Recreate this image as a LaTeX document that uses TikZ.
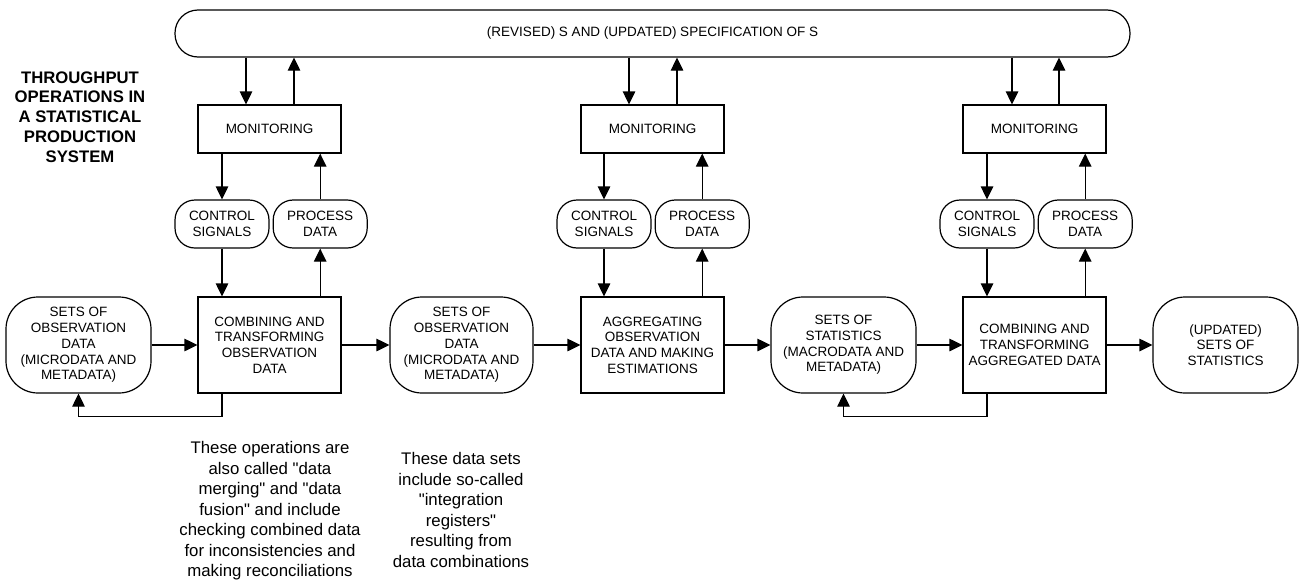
\documentclass[tikz,border=0pt]{standalone}
\usepackage{fontspec}
\setmainfont{Liberation Sans}
\usetikzlibrary{positioning, arrows.meta}
\tikzset{
  lbl/.style={font=\fontsize{13.5}{15.7}\selectfont, align=center,
              inner sep=2pt, line width=1.2pt},
  procbox/.style={lbl, draw, minimum width=143pt, minimum height=96pt},
  monbox/.style={lbl, draw, minimum width=143pt, minimum height=48pt},
  databox/.style={lbl, draw, rounded corners=32pt, minimum width=145pt, minimum height=96pt},
  sigbox/.style={lbl, draw, rounded corners=20pt, minimum width=94pt, minimum height=48pt},
  specbar/.style={lbl, draw, rounded corners=23pt, minimum width=955pt, minimum height=47pt},
  arrow/.style={-{Triangle[length=13pt, width=12.5pt]}, line width=1.2pt},
  note/.style={font=\fontsize{16.8}{20.5}\selectfont, align=center, inner sep=0pt},
  heading/.style={font=\bfseries\fontsize{16.7}{19.8}\selectfont, align=center, inner sep=0pt},
}
\newcommand{\qt}{\textquotedbl}

\begin{document}
\begin{tikzpicture}[x=1pt, y=-1pt]

\useasboundingbox (0,0) rectangle (1305,581);

%% ====================  TOP BAR AND TITLE  ====================

\node[specbar] (spec) at (652.5,33.5) {(REVISED) S AND (UPDATED) SPECIFICATION OF S};

\node[heading] (title) at (80,117)
  {THROUGHPUT\\OPERATIONS IN\\A STATISTICAL\\PRODUCTION\\SYSTEM};

%% ====================  MAIN ROW  ====================

\node[databox] (obs1) at (78.5,345)
  {SETS OF\\OBSERVATION\\DATA\\(MICRODATA AND\\METADATA)};
\node[procbox] (comb1) at (269.5,345)
  {COMBINING AND\\TRANSFORMING\\OBSERVATION\\DATA};
\node[databox, minimum width=143pt] (obs2) at (461.5,345)
  {SETS OF\\OBSERVATION\\DATA\\(MICRODATA AND\\METADATA)};
\node[procbox] (aggr) at (652.5,345)
  {AGGREGATING\\OBSERVATION\\DATA AND MAKING\\ESTIMATIONS};
\node[databox] (stat1) at (843.5,345)
  {SETS OF\\STATISTICS\\(MACRODATA AND\\METADATA)};
\node[procbox] (comb2) at (1034.5,345)
  {COMBINING AND\\TRANSFORMING\\AGGREGATED DATA};
\node[databox] (stat2) at (1225.5,345)
  {(UPDATED)\\SETS OF\\STATISTICS};

\draw[arrow] (obs1) -- (comb1);
\draw[arrow] (comb1) -- (obs2);
\draw[arrow] (obs2) -- (aggr);
\draw[arrow] (aggr) -- (stat1);
\draw[arrow] (stat1) -- (comb2);
\draw[arrow] (comb2) -- (stat2);

%% ====================  MONITORING LOOPS  ====================

\node[monbox] (mon1) at (269.5,129) {MONITORING};
\node[sigbox] (ctl1) at (222,224) {CONTROL\\SIGNALS};
\node[sigbox, right=3pt of ctl1] (prc1) {PROCESS\\DATA};

\node[monbox] (mon2) at (652.5,129) {MONITORING};
\node[sigbox] (ctl2) at (604,224) {CONTROL\\SIGNALS};
\node[sigbox, right=3pt of ctl2] (prc2) {PROCESS\\DATA};

\node[monbox] (mon3) at (1034.5,129) {MONITORING};
\node[sigbox] (ctl3) at (987,224) {CONTROL\\SIGNALS};
\node[sigbox, right=3pt of ctl3] (prc3) {PROCESS\\DATA};

% bar <-> monitoring
\draw[arrow] ([xshift=-23.5pt]mon1.north |- spec.south) -- ([xshift=-23.5pt]mon1.north);
\draw[arrow] ([xshift=24.5pt]mon1.north) -- ([xshift=24.5pt]mon1.north |- spec.south);
\draw[arrow] ([xshift=-23.5pt]mon2.north |- spec.south) -- ([xshift=-23.5pt]mon2.north);
\draw[arrow] ([xshift=24.5pt]mon2.north) -- ([xshift=24.5pt]mon2.north |- spec.south);
\draw[arrow] ([xshift=-22.5pt]mon3.north |- spec.south) -- ([xshift=-22.5pt]mon3.north);
\draw[arrow] ([xshift=24.5pt]mon3.north) -- ([xshift=24.5pt]mon3.north |- spec.south);

% monitoring <-> signals <-> operations
\draw[arrow] (mon1.south -| ctl1) -- (ctl1.north);
\draw[arrow] (prc1.north) -- (prc1.north |- mon1.south);
\draw[arrow] (ctl1.south) -- (ctl1.south |- comb1.north);
\draw[arrow] (prc1.south |- comb1.north) -- (prc1.south);

\draw[arrow] (mon2.south -| ctl2) -- (ctl2.north);
\draw[arrow] (prc2.north) -- (prc2.north |- mon2.south);
\draw[arrow] (ctl2.south) -- (ctl2.south |- aggr.north);
\draw[arrow] (prc2.south |- aggr.north) -- (prc2.south);

\draw[arrow] (mon3.south -| ctl3) -- (ctl3.north);
\draw[arrow] (prc3.north) -- (prc3.north |- mon3.south);
\draw[arrow] (ctl3.south) -- (ctl3.south |- comb2.north);
\draw[arrow] (prc3.south |- comb2.north) -- (prc3.south);

%% ====================  FEEDBACK  ====================

\draw[arrow] (comb1.south -| ctl1) -- ++(0,23) -| (obs1.south);
\draw[arrow] (comb2.south -| ctl3) -- ++(0,23) -| (stat1.south);

%% ====================  NOTES  ====================

\node[note] (note1) at (270,511)
  {These operations are\\also called \qt data\\merging\qt{} and \qt data\\fusion\qt{} and include\\checking combined data\\for inconsistencies and\\making reconciliations};

\node[note] (note2) at (461,510)
  {These data sets\\include so-called\\\qt integration\\registers\qt\\resulting from\\data combinations};

\end{tikzpicture}
\end{document}
